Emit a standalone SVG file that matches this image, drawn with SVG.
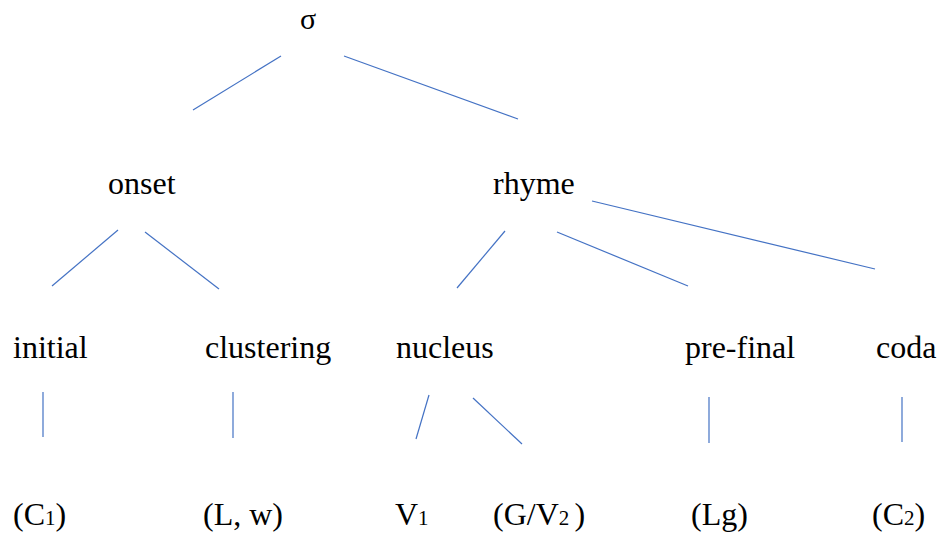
<svg xmlns="http://www.w3.org/2000/svg" width="938" height="535" viewBox="0 0 938 535">
<style>
text{font-family:"Liberation Serif","Times New Roman",serif;font-size:32px;fill:#000}
.s{font-size:21px}
#connectors line{stroke:#4472C4;stroke-width:1.2;fill:none}
</style>
<rect width="938" height="535" fill="#fff"/>
<g id="connectors">
<line x1="281" y1="56" x2="193" y2="110"/>
<line x1="344" y1="56" x2="518" y2="119"/>
<line x1="118" y1="230" x2="52" y2="286"/>
<line x1="145" y1="232" x2="219" y2="289"/>
<line x1="505" y1="231" x2="457" y2="288"/>
<line x1="557" y1="232" x2="688" y2="286"/>
<line x1="592" y1="201" x2="875" y2="269"/>
<line x1="43" y1="392" x2="43" y2="437"/>
<line x1="233" y1="392" x2="233" y2="438"/>
<line x1="429" y1="395" x2="416" y2="439"/>
<line x1="473" y1="398" x2="522" y2="444"/>
<line x1="709" y1="397" x2="709" y2="443"/>
<line x1="902" y1="397" x2="902" y2="442"/>
</g>
<g id="sigma"><text x="300" y="29" style="font-size:30px">σ</text></g>
<g id="onset"><text x="108" y="194">onset</text></g>
<g id="rhyme"><text x="493" y="194">rhyme</text></g>
<g id="initial"><text x="13" y="358">initial</text></g>
<g id="clustering"><text x="205" y="358">clustering</text></g>
<g id="nucleus"><text x="396" y="358">nucleus</text></g>
<g id="prefinal"><text x="685" y="358">pre-final</text></g>
<g id="coda"><text x="876" y="358">coda</text></g>
<g id="c1"><text x="13" y="525">(C<tspan class="s">1</tspan>)</text></g>
<g id="lw"><text x="203" y="525">(L, w)</text></g>
<g id="v1"><text x="395" y="525">V<tspan class="s">1</tspan></text></g>
<g id="gv2"><text x="493" y="525">(G/V<tspan class="s">2 </tspan>)</text></g>
<g id="lg"><text x="691" y="525">(Lg)</text></g>
<g id="c2"><text x="872" y="525">(C<tspan class="s">2</tspan>)</text></g>
</svg>
